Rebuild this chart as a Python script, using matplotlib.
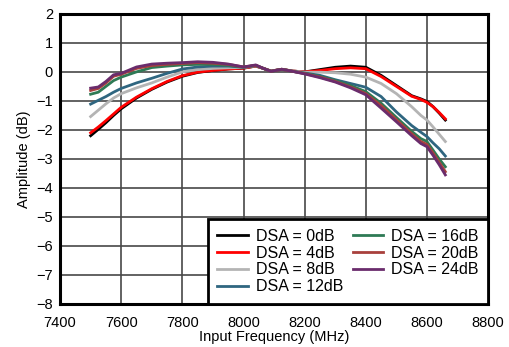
import matplotlib.pyplot as plt

plt.rcParams["font.family"] = ["Liberation Sans", "DejaVu Sans"]

# Frequency points (MHz)
freq = [7500, 7525, 7550, 7575, 7600, 7650, 7700, 7750, 7800, 7850, 7900,
        7950, 8000, 8040, 8065, 8090, 8125, 8160, 8200, 8250, 8300, 8350,
        8400, 8450, 8500, 8550, 8580, 8600, 8620, 8640, 8660]

# Amplitude (dB) for each DSA setting
dsa_0 = [-2.20, -1.98, -1.75, -1.50, -1.27, -0.90, -0.60, -0.35, -0.15, -0.02, 0.05,
         0.10, 0.13, 0.20, 0.12, 0.03, 0.09, 0.03, 0.00, 0.08, 0.16, 0.20,
         0.16, -0.12, -0.47, -0.82, -0.93, -1.02, -1.20, -1.42, -1.66]
dsa_4 = [-2.10, -1.90, -1.68, -1.45, -1.22, -0.87, -0.58, -0.33, -0.13, -0.01, 0.05,
         0.10, 0.13, 0.20, 0.12, 0.03, 0.09, 0.03, 0.00, 0.05, 0.11, 0.14,
         0.11, -0.16, -0.50, -0.84, -0.95, -1.05, -1.20, -1.40, -1.62]
dsa_8 = [-1.54, -1.32, -1.10, -0.90, -0.75, -0.55, -0.38, -0.18, 0.00, 0.08, 0.12,
         0.14, 0.15, 0.21, 0.12, 0.03, 0.09, 0.03, -0.01, -0.01, -0.03, -0.08,
         -0.18, -0.40, -0.75, -1.20, -1.50, -1.66, -1.90, -2.15, -2.40]
dsa_12 = [-1.11, -0.98, -0.85, -0.70, -0.57, -0.38, -0.22, -0.05, 0.10, 0.17, 0.20,
          0.20, 0.16, 0.22, 0.12, 0.02, 0.09, 0.02, -0.04, -0.12, -0.27, -0.40,
          -0.53, -0.85, -1.38, -1.85, -2.08, -2.23, -2.45, -2.65, -2.90]
dsa_16 = [-0.77, -0.70, -0.50, -0.30, -0.18, 0.00, 0.15, 0.20, 0.24, 0.26, 0.26,
          0.23, 0.16, 0.22, 0.12, 0.02, 0.09, 0.02, -0.05, -0.16, -0.30, -0.47,
          -0.68, -1.08, -1.57, -2.05, -2.30, -2.40, -2.70, -3.00, -3.27]
dsa_20 = [-0.64, -0.57, -0.38, -0.15, -0.08, 0.12, 0.22, 0.26, 0.29, 0.32, 0.30,
          0.26, 0.17, 0.23, 0.12, 0.02, 0.09, 0.02, -0.06, -0.18, -0.33, -0.52,
          -0.75, -1.16, -1.65, -2.13, -2.40, -2.50, -2.80, -3.12, -3.44]
dsa_24 = [-0.56, -0.52, -0.33, -0.10, -0.05, 0.17, 0.27, 0.30, 0.32, 0.35, 0.33,
          0.27, 0.17, 0.24, 0.12, 0.02, 0.09, 0.02, -0.07, -0.20, -0.35, -0.55,
          -0.79, -1.25, -1.72, -2.20, -2.47, -2.58, -2.88, -3.20, -3.55]

series = [dsa_0, dsa_4, dsa_8, dsa_12, dsa_16, dsa_20, dsa_24]
labels = ["DSA = 0dB", "DSA = 4dB", "DSA = 8dB", "DSA = 12dB",
          "DSA = 16dB", "DSA = 20dB", "DSA = 24dB"]
colors = ["#000000", "#ff0000", "#b4b4b4", "#2f6680",
          "#2e7a55", "#a8403c", "#6a2c6c"]

fig = plt.figure(figsize=(5.09, 3.47), dpi=100)
ax = fig.add_axes([0.118, 0.124, 0.841, 0.836])

for vals, lab, col in zip(series, labels, colors):
    ax.plot(freq, vals, color=col, linewidth=2, label=lab)

ax.set_xlim(7400, 8800)
ax.set_ylim(-8, 2)
ax.set_xticks(range(7400, 8801, 200))
ax.set_yticks(range(-8, 3, 1))
ax.grid(True, color="#484848", linewidth=1.2)
ax.set_axisbelow(True)
ax.tick_params(length=0, labelsize=10.5)
ax.tick_params(axis="x", pad=9)
ax.tick_params(axis="y", pad=5)
for sp in ax.spines.values():
    sp.set_linewidth(2.2)
    sp.set_color("black")

ax.set_xlabel("Input Frequency (MHz)", fontsize=10.5, labelpad=0)
ax.set_ylabel("Amplitude (dB)", fontsize=10.5, labelpad=4)

leg = ax.legend(loc="lower right", ncol=2, fontsize=11.5, frameon=True,
                fancybox=False, borderaxespad=0, handlelength=1.9,
                handletextpad=0.5, columnspacing=0.6, labelspacing=0.12,
                borderpad=0.6)
leg.get_frame().set_edgecolor("black")
leg.get_frame().set_linewidth(2)
leg.get_frame().set_alpha(1)

fig.savefig("out.png", dpi=100)
